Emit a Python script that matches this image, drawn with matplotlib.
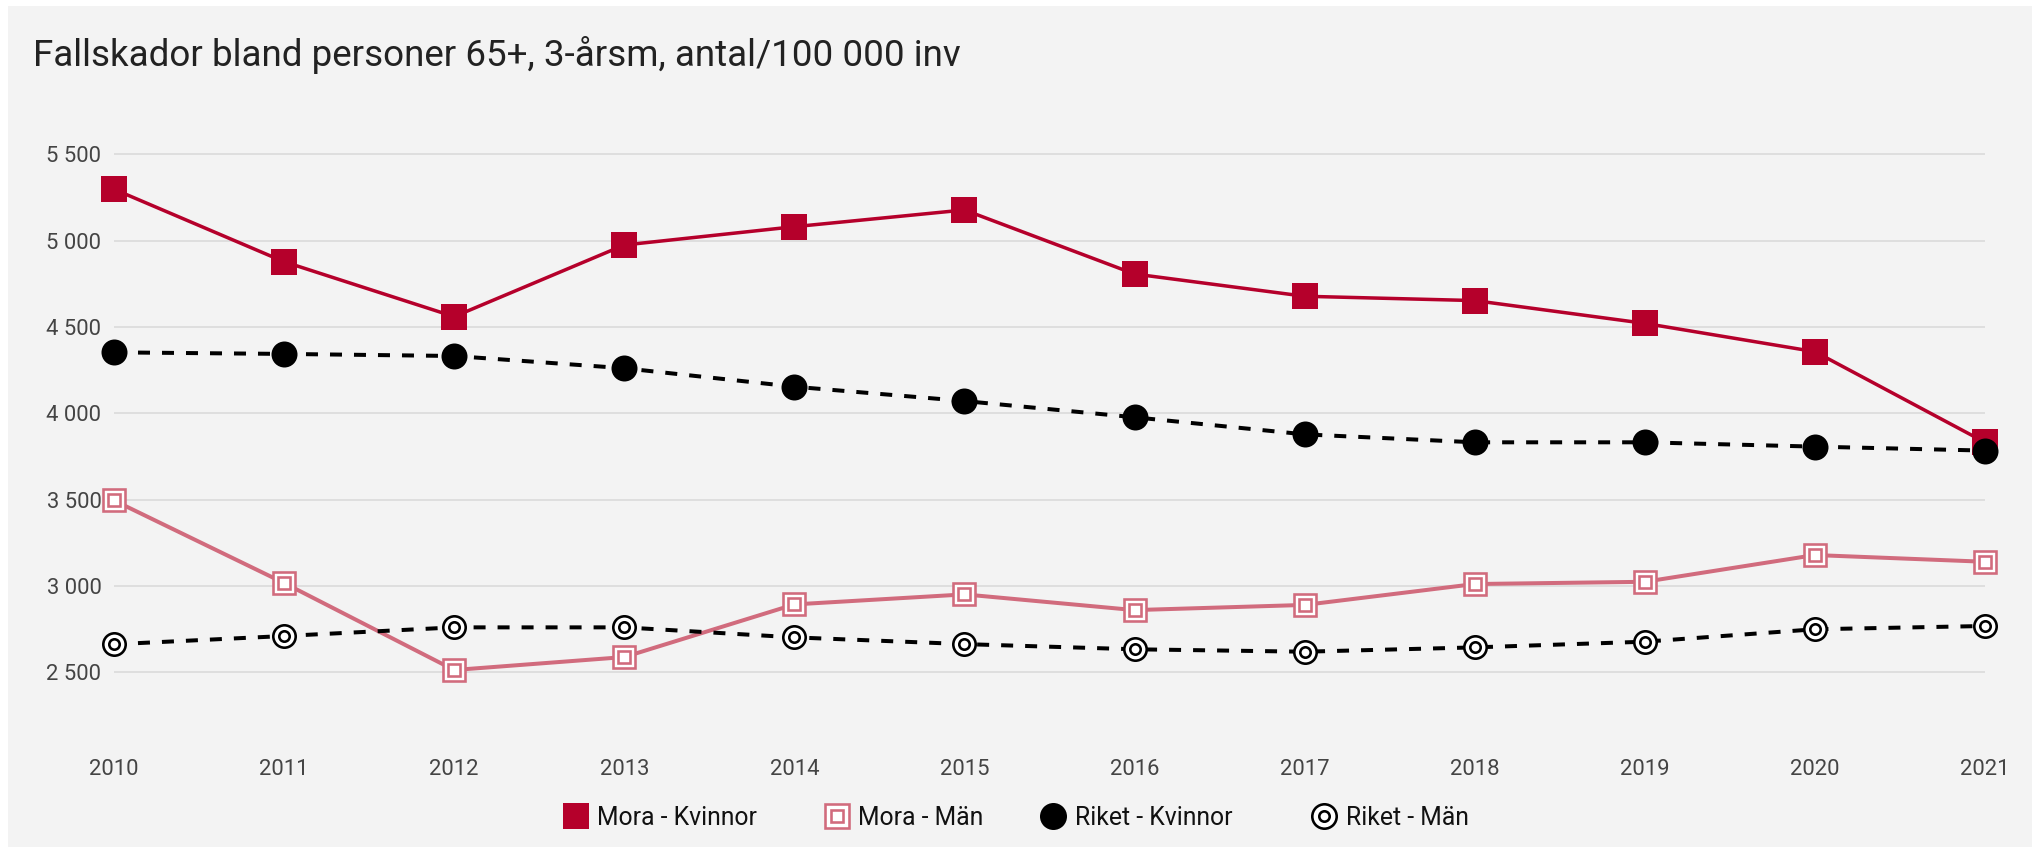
import matplotlib
matplotlib.use("Agg")
import matplotlib.pyplot as plt
from matplotlib.lines import Line2D
from matplotlib.patches import Rectangle
from matplotlib.legend_handler import HandlerTuple

plt.rcParams['font.family'] = ['Roboto', 'DejaVu Sans']
plt.rcParams['lines.scale_dashes'] = False

years = [2010, 2011, 2012, 2013, 2014, 2015, 2016, 2017, 2018, 2019, 2020, 2021]
mora_kvinnor = [5298, 4878, 4560, 4975, 5081, 5178, 4807, 4678, 4653, 4521, 4357, 3832]
mora_man = [3495, 3017, 2513, 2588, 2893, 2951, 2860, 2890, 3011, 3024, 3179, 3140]
riket_kvinnor = [4353, 4344, 4332, 4261, 4154, 4071, 3977, 3878, 3832, 3832, 3807, 3784]
riket_man = [2662, 2710, 2760, 2760, 2702, 2663, 2633, 2619, 2644, 2677, 2749, 2768]
yticks = [2500, 3000, 3500, 4000, 4500, 5000, 5500]
ytick_labels = ["2 500", "3 000", "3 500", "4 000", "4 500", "5 000", "5 500"]
title = "Fallskador bland personer 65+, 3-årsm, antal/100 000 inv"
labels = ["Mora - Kvinnor", "Mora - Män", "Riket - Kvinnor", "Riket - Män"]

RED = "#b5002b"
PINK = "#d16b7d"
BG = "#f3f3f3"
PX = 0.72  # points per pixel at dpi 100

W, H = 2033, 847
fig = plt.figure(figsize=(W / 100, H / 100), dpi=100)
fig.patch.set_facecolor("white")
fig.patches.append(Rectangle((8 / W, 0), 1, 1 - 6 / H, transform=fig.transFigure,
                             facecolor=BG, edgecolor="none", zorder=-10))

left, right = 114 / W, 1985 / W
top_px, bot_px = 137.1, 741.3
ax = fig.add_axes([left, 1 - bot_px / H, right - left, (bot_px - top_px) / H])
ax.set_facecolor(BG)
ax.patch.set_alpha(0)
ax.set_xlim(2010, 2021)
ax.set_ylim(2100, 5600)
for s in ax.spines.values():
    s.set_visible(False)
ax.set_yticks(yticks)
ax.set_yticklabels(ytick_labels)
ax.set_xticks(years)
ax.set_xticklabels([str(y) for y in years])
ax.tick_params(axis='both', length=0, labelsize=15.8, labelcolor="#444444")
ax.tick_params(axis='y', pad=9)
ax.tick_params(axis='x', pad=13)
ax.grid(axis='y', color="#dedede", linewidth=2 * PX)
ax.set_axisbelow(True)

big = 26 * PX
ew = 2.6 * PX
# Mora - Kvinnor
ax.plot(years, mora_kvinnor, color=RED, linewidth=3.5 * PX, marker='s', markersize=big,
        markeredgewidth=0, markerfacecolor=RED, clip_on=False, zorder=3)
# Mora - Män
ax.plot(years, mora_man, color=PINK, linewidth=4 * PX, marker='s', markersize=(25 - 2.6) * PX,
        markeredgewidth=ew, markerfacecolor="white", markeredgecolor=PINK, clip_on=False, zorder=4)
ax.plot(years, mora_man, linestyle='none', marker='s', markersize=(14 - 2.6) * PX,
        markeredgewidth=ew, markerfacecolor="white", markeredgecolor=PINK, clip_on=False, zorder=4.1)
# Riket - Kvinnor
ax.plot(years, riket_kvinnor, color="black", linewidth=4 * PX, dashes=(12 * PX, 12 * PX),
        marker='o', markersize=big, markeredgewidth=0, markerfacecolor="black",
        clip_on=False, zorder=5)
# Riket - Män
ax.plot(years, riket_man, color="black", linewidth=4 * PX, dashes=(12 * PX, 12 * PX),
        marker='o', markersize=(25 - 2.6) * PX, markeredgewidth=ew, markerfacecolor="white",
        markeredgecolor="black", clip_on=False, zorder=6)
ax.plot(years, riket_man, linestyle='none', marker='o', markersize=(13 - 2.6) * PX,
        markeredgewidth=ew, markerfacecolor="white", markeredgecolor="black",
        clip_on=False, zorder=6.1)

fig.text(33 / W, 1 - 66 / H, title, fontsize=26.5, color="#222222", ha='left', va='baseline')

# Legend handles
h1 = Line2D([], [], linestyle='none', marker='s', markersize=27 * PX, markeredgewidth=0,
            markerfacecolor=RED)
h2a = Line2D([], [], linestyle='none', marker='s', markersize=(27 - 2.6) * PX, markeredgewidth=ew,
             markerfacecolor="white", markeredgecolor=PINK)
h2b = Line2D([], [], linestyle='none', marker='s', markersize=(15 - 2.6) * PX, markeredgewidth=ew,
             markerfacecolor="white", markeredgecolor=PINK)
h3 = Line2D([], [], linestyle='none', marker='o', markersize=27 * PX, markeredgewidth=0,
            markerfacecolor="black")
h4a = Line2D([], [], linestyle='none', marker='o', markersize=(27 - 2.6) * PX, markeredgewidth=ew,
             markerfacecolor="white", markeredgecolor="black")
h4b = Line2D([], [], linestyle='none', marker='o', markersize=(13 - 2.6) * PX, markeredgewidth=ew,
             markerfacecolor="white", markeredgecolor="black")
handles = [h1, (h2a, h2b), h3, (h4a, h4b)]
marker_centers = [576, 837, 1053.5, 1324.5]
fs = 17.8
handle_len = 1.0
for hnd, lab, cx in zip(handles, labels, marker_centers):
    x0 = cx - handle_len * fs / PX / 2
    leg = fig.legend([hnd], [lab], loc='center left', bbox_to_anchor=(x0 / W, 1 - 817.5 / H),
                     frameon=False, fontsize=fs, handlelength=handle_len, handletextpad=0.35,
                     borderpad=0, borderaxespad=0, numpoints=1,
                     handler_map={tuple: HandlerTuple(ndivide=1, pad=0)})
    for t in leg.get_texts():
        t.set_color("#111111")

fig.savefig("out.png", dpi=100, facecolor=fig.get_facecolor())
